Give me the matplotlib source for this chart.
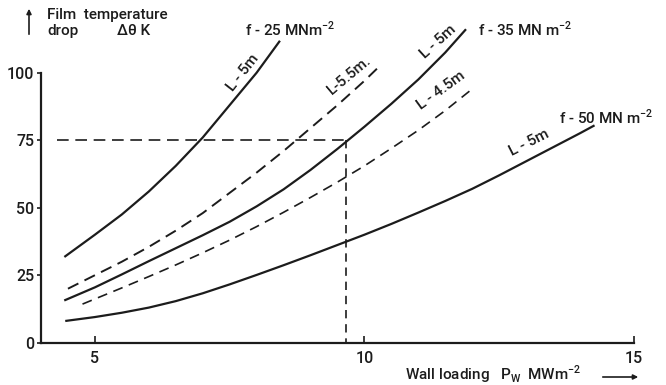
import matplotlib.pyplot as plt

# data
f25_l5_x = [4.45, 5.0, 5.5, 6.0, 6.5, 7.0, 7.5, 8.0, 8.42]
f25_l5_y = [32, 40, 47.5, 56, 65.5, 76, 88, 100, 111.5]

f35_l55_x = [4.5, 5.0, 5.5, 6.0, 6.5, 7.0, 7.5, 8.0, 8.5, 9.0, 9.5, 10.0, 10.3]
f35_l55_y = [20, 25, 30, 35.5, 41.5, 48, 55.5, 63, 71, 79.5, 88, 97, 102.8]

f35_l5_x = [4.45, 5.0, 5.5, 6.0, 6.5, 7.0, 7.5, 8.0, 8.5, 9.0, 9.5, 10.0, 10.5, 11.0, 11.5, 11.87]
f35_l5_y = [15.8, 20.5, 25.3, 30.2, 35, 39.8, 44.8, 50.5, 56.8, 64, 71.8, 80, 88.5, 97.5, 107.5, 115.8]

f35_l45_x = [4.77, 5.0, 5.5, 6.0, 6.5, 7.0, 7.5, 8.0, 8.5, 9.0, 9.5, 10.0, 10.5, 11.0, 11.5, 12.0]
f35_l45_y = [14.3, 16.2, 20.3, 24.5, 28.8, 33.3, 38, 43, 48.3, 53.8, 59.5, 65.5, 72, 78.7, 86, 94]

f50_l5_x = [4.47, 5.0, 5.5, 6.0, 6.5, 7.0, 7.5, 8.0, 8.5, 9.0, 9.5, 10.0, 10.5, 11.0,
            11.5, 12.0, 12.5, 13.0, 13.5, 14.0, 14.25]
f50_l5_y = [8.1, 9.5, 11.1, 13, 15.4, 18.3, 21.6, 25.1, 28.7, 32.4, 36.2, 40, 44, 48.2,
            52.5, 57, 62, 67.2, 72.4, 77.6, 80.3]

# worked example: 75 K drop read at Pw = 9.65
ex_x = 9.65
ex_y = 75

x_ticks = [5, 10, 15]
y_ticks = [0, 25, 50, 75, 100]

ink = '#1c1c1c'
plt.rcParams['font.family'] = ['Roboto', 'DejaVu Sans']
plt.rcParams['font.weight'] = 'medium'

fig = plt.figure(figsize=(6.66, 3.85), dpi=100)
ax = fig.add_axes([41 / 666, 42.3 / 385, 593 / 666, 270 / 385])

ax.plot(f25_l5_x, f25_l5_y, color=ink, lw=1.6, clip_on=False)
ax.plot(f35_l55_x, f35_l55_y, color=ink, lw=1.4, ls=(0, (6, 3.5)), clip_on=False)
ax.plot(f35_l5_x, f35_l5_y, color=ink, lw=1.6, clip_on=False)
ax.plot(f35_l45_x, f35_l45_y, color=ink, lw=1.2, ls=(0, (6, 4)), clip_on=False)
ax.plot(f50_l5_x, f50_l5_y, color=ink, lw=1.6, clip_on=False)

# guide lines for the example
ax.plot([4.3, ex_x], [ex_y, ex_y], color=ink, lw=1.2, ls=(0, (7, 4)))
ax.plot([ex_x, ex_x], [ex_y, 0], color=ink, lw=1.2, ls=(0, (5, 3.5)))

ax.set_xlim(4, 15)
ax.set_ylim(0, 100)
ax.set_xticks(x_ticks)
ax.set_yticks(y_ticks)
for s in ['top', 'right']:
    ax.spines[s].set_visible(False)
for s in ['left', 'bottom']:
    ax.spines[s].set_linewidth(1.6)
    ax.spines[s].set_color(ink)
ax.tick_params(axis='x', direction='in', length=5, width=1.2, pad=6, labelsize=11.5, colors=ink)
ax.tick_params(axis='y', direction='out', length=3, width=1.2, pad=2, labelsize=11.5, colors=ink)

# curve labels
fs = 11
ax.text(7.78, 116, 'f - 25 MNm$^\\mathregular{-2}$', fontsize=fs, color=ink, va='center', clip_on=False)
ax.text(12.1, 116, 'f - 35 MN m$^\\mathregular{-2}$', fontsize=fs, color=ink, va='center', clip_on=False)
ax.text(13.6, 83.5, 'f - 50 MN m$^\\mathregular{-2}$', fontsize=fs, color=ink, va='center', clip_on=False)

ax.text(7.75, 100, 'L - 5m', fontsize=fs, color=ink, rotation=52, ha='center', va='center', clip_on=False)
ax.text(9.72, 99, 'L-5.5m.', fontsize=fs, color=ink, rotation=40, ha='center', va='center', clip_on=False)
ax.text(11.37, 111.3, 'L - 5m', fontsize=fs, color=ink, rotation=42, ha='center', va='center', clip_on=False)
ax.text(11.43, 93.4, 'L - 4.5m', fontsize=fs, color=ink, rotation=36, ha='center', va='center', clip_on=False)
ax.text(13.06, 74, 'L - 5m', fontsize=fs, color=ink, rotation=27, ha='center', va='center', clip_on=False)

# axis titles
fig.text(47 / 666, 1 - 15 / 385, 'Film  temperature', fontsize=11, color=ink, va='center')
fig.text(47 / 666, 1 - 31 / 385, 'drop', fontsize=11, color=ink, va='center')
fig.text(117 / 666, 1 - 31 / 385, 'Δθ K', fontsize=11, color=ink, va='center')
fig.add_artist(plt.Annotation('', xy=(29 / 666, 1 - 6 / 385), xytext=(29 / 666, 1 - 37 / 385),
                              xycoords='figure fraction',
                              arrowprops=dict(arrowstyle='-|>', color=ink, lw=1.2, mutation_scale=7)))

fig.text(405 / 666, 1 - 380 / 385,
         'Wall loading   P$_\\mathregular{W}$  MWm$^\\mathregular{-2}$',
         fontsize=11, color=ink, va='baseline')
fig.add_artist(plt.Annotation('', xy=(641 / 666, 1 - 377 / 385), xytext=(600 / 666, 1 - 377 / 385),
                              xycoords='figure fraction',
                              arrowprops=dict(arrowstyle='-|>', color=ink, lw=1.2, mutation_scale=7)))

plt.savefig('out.png', dpi=100)
